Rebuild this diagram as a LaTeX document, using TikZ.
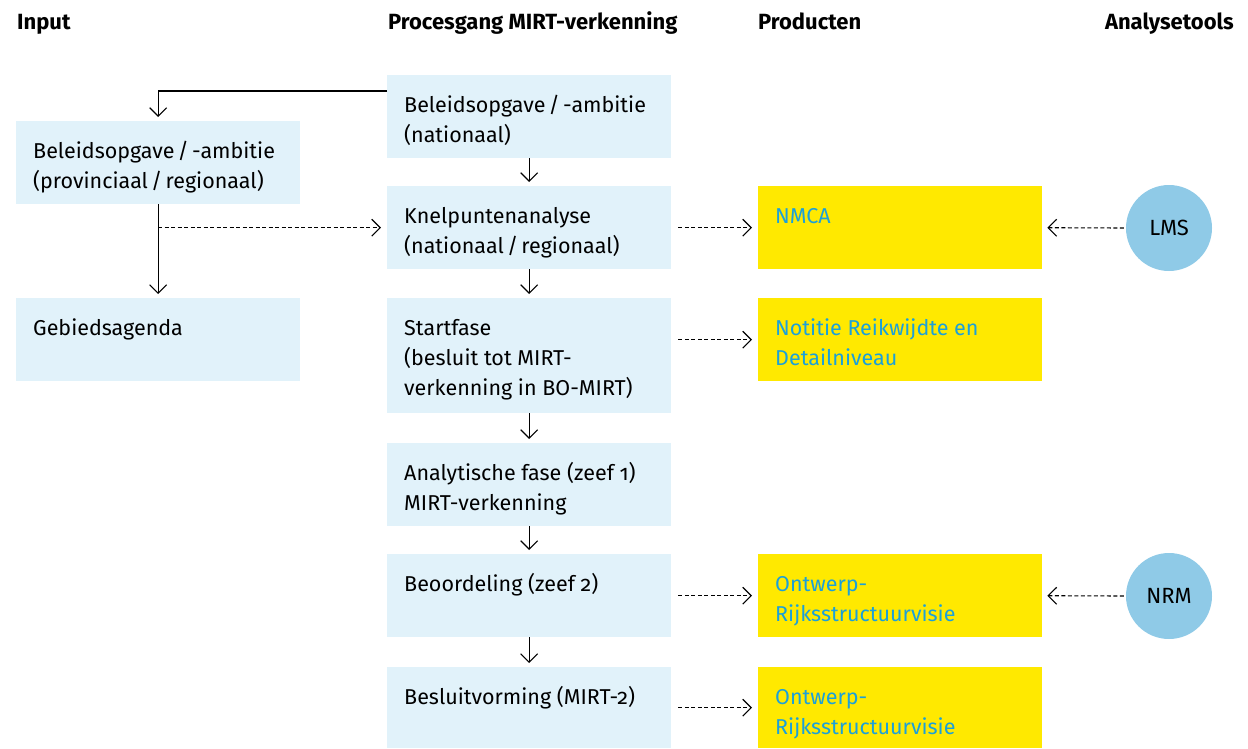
\documentclass[tikz,border=0pt]{standalone}
\usepackage{fontspec}
\setmainfont{Fira Sans}[Numbers=OldStyle]
\usetikzlibrary{arrows.meta}
\definecolor{lb}{HTML}{E1F2FA}
\definecolor{yel}{HTML}{FFE900}
\definecolor{circ}{HTML}{8FCAE7}
\definecolor{cyantext}{HTML}{1BA0DA}
\newcommand{\mlines}[1]{\begin{tabular}[t]{@{}l@{}}#1\end{tabular}}
\newcommand{\slsep}{\hspace{0.15em}/\hspace{0.15em}}
\tikzset{
  boxl/.style={fill=lb, draw=none, inner sep=0, minimum width=284, minimum height=83, anchor=north west},
  boxy/.style={fill=yel, draw=none, inner sep=0, minimum width=284, minimum height=83, anchor=north west},
  txt/.style={anchor=base west, inner sep=0, font=\fontsize{21.5}{30}\selectfont},
  ytxt/.style={txt, text=cyantext},
  hdr/.style={anchor=base west, inner sep=0, font=\fontsize{22}{24}\selectfont\bfseries},
  tool/.style={circle, fill=circ, inner sep=0, minimum size=86, font=\fontsize{22}{24}\selectfont},
  arr/.style={line width=1.1pt, -{Straight Barb[length=8.5pt,width=17pt,line width=1.1pt]}},
  darr/.style={arr, dash pattern=on 4pt off 2.5pt},
}
\begin{document}
\begin{tikzpicture}[x=1pt,y=-1pt]
\useasboundingbox (0,0) rectangle (1248,748);
% headers
\node[hdr] (h1) at (17,29) {Input};
\node[hdr] (h2) at (388,29) {Procesgang MIRT-verkenning};
\node[hdr] (h3) at (758,29) {Producten};
\node[hdr, anchor=base east] (h4) at (1234,29) {Analysetools};
% left column
\node[boxl] (l1) at (16,121) {};
\node[txt] (l1t) at ([shift={(17,37)}]l1.north west) {\mlines{Beleidsopgave\slsep-ambitie\\(provinciaal\slsep regionaal)}};
\node[boxl] (l2) at (16,298) {};
\node[txt] (l2t) at ([shift={(17,37)}]l2.north west) {Gebiedsagenda};
% center column
\node[boxl] (c1) at (387,75) {};
\node[txt] (c1t) at ([shift={(17,37)}]c1.north west) {\mlines{Beleidsopgave\slsep-ambitie\\(nationaal)}};
\node[boxl] (c2) at (387,186) {};
\node[txt] (c2t) at ([shift={(17,37)}]c2.north west) {\mlines{Knelpuntenanalyse\\(nationaal\slsep regionaal)}};
\node[boxl, minimum height=115] (c3) at (387,298) {};
\node[txt] (c3t) at ([shift={(17,37)}]c3.north west) {\mlines{Startfase\\(besluit tot MIRT-\\verkenning in BO-MIRT)}};
\node[boxl] (c4) at (387,443) {};
\node[txt] (c4t) at ([shift={(17,37)}]c4.north west) {\mlines{Analytische fase (zeef 1)\\MIRT-verkenning}};
\node[boxl] (c5) at (387,554) {};
\node[txt] (c5t) at ([shift={(17,37)}]c5.north west) {Beoordeling (zeef 2)};
\node[boxl, minimum height=81] (c6) at (387,667) {};
\node[txt] (c6t) at ([shift={(17,37)}]c6.north west) {Besluitvorming (MIRT-2)};
% products
\node[boxy] (p1) at (758,186) {};
\node[ytxt] (p1t) at ([shift={(17,37)}]p1.north west) {NMCA};
\node[boxy] (p2) at (758,298) {};
\node[ytxt] (p2t) at ([shift={(17,37)}]p2.north west) {\mlines{Notitie Reikwijdte en\\Detailniveau}};
\node[boxy] (p3) at (758,554) {};
\node[ytxt] (p3t) at ([shift={(17,37)}]p3.north west) {\mlines{Ontwerp-\\Rijksstructuurvisie}};
\node[boxy, minimum height=81] (p4) at (758,667) {};
\node[ytxt] (p4t) at ([shift={(17,37)}]p4.north west) {\mlines{Ontwerp-\\Rijksstructuurvisie}};
% tools
\node[tool] (t1) at (1169,228) {LMS};
\node[tool] (t2) at (1169,596) {NRM};
% connectors center column
\foreach \a/\b in {c1/c2,c2/c3,c3/c4,c4/c5,c5/c6}
  \draw[arr, shorten >=4pt] (\a.south) -- (\b.north);
% left connectors
\coordinate (k1) at ([shift={(0,16)}]c1.north west);
\draw[arr, shorten >=4pt] (k1) -| (l1.north);
\draw[arr, shorten >=4pt] (l1.south) -- (l2.north);
\coordinate (k2) at (l1.south |- c2.west);
\draw[darr, shorten >=6pt] (k2) -- (c2.west);
% product connectors
\draw[darr, shorten <=7pt, shorten >=6pt] (c2.east) -- (p1.west);
\draw[darr, shorten <=7pt, shorten >=6pt] (c3.east |- p2.west) -- (p2.west);
\draw[darr, shorten <=7pt, shorten >=6pt] (c5.east |- p3.west) -- (p3.west);
\draw[darr, shorten <=7pt, shorten >=6pt] (c6.east |- p4.west) -- (p4.west);
% tool connectors
\draw[darr, shorten <=2pt, shorten >=5pt] (t1.west) -- (p1.east);
\draw[darr, shorten <=2pt, shorten >=5pt] (t2.west) -- (p3.east);
\end{tikzpicture}
\end{document}
